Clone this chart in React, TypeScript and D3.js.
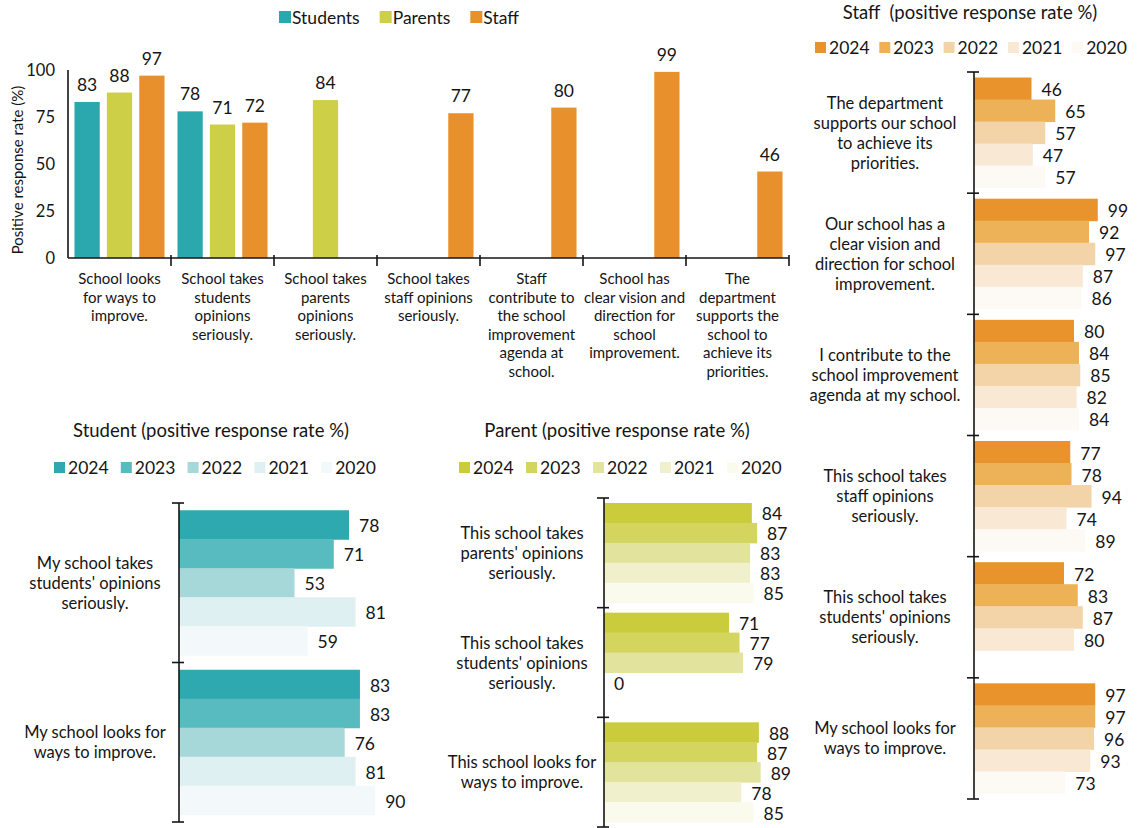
import React from 'react';
import * as d3 from 'd3';

const FONT = 'Lato, "Noto Sans", "DejaVu Sans", sans-serif';
const INK = '#151515';

// ---------- Top grouped bar chart ----------
const topCategories = [
  'School looks for ways to improve.',
  'School takes students opinions seriously.',
  'School takes parents opinions seriously.',
  'School takes staff opinions seriously.',
  'Staff contribute to the school improvement agenda at school.',
  'School has clear vision and direction for school improvement.',
  'The department supports the school to achieve its priorities.',
];
const topCategoryLines = [
  ['School looks', 'for ways to', 'improve.'],
  ['School takes', 'students', 'opinions', 'seriously.'],
  ['School takes', 'parents', 'opinions', 'seriously.'],
  ['School takes', 'staff opinions', 'seriously.'],
  ['Staff', 'contribute to', 'the school', 'improvement', 'agenda at', 'school.'],
  ['School has', 'clear vision and', 'direction for', 'school', 'improvement.'],
  ['The', 'department', 'supports the', 'school to', 'achieve its', 'priorities.'],
];
const topSeries = ['Students', 'Parents', 'Staff'];
const studentsValues: (number | null)[] = [83, 78, null, null, null, null, null];
const parentsValues: (number | null)[] = [88, 71, 84, null, null, null, null];
const staffValues: (number | null)[] = [97, 72, null, 77, 80, 99, 46];
const topColors = ['#2ba7ae', '#cdd047', '#e8902c'];
const yTicks = [0, 25, 50, 75, 100];
const yAxisTitle = 'Positive response rate (%)';

// ---------- Year series ----------
const years = ['2024', '2023', '2022', '2021', '2020'];

// Staff
const staffTitle = 'Staff  (positive response rate %)';
const staffQuestions = [
  ['The department', 'supports our school', 'to achieve its', 'priorities.'],
  ['Our school has a', 'clear vision and', 'direction for school', 'improvement.'],
  ['I contribute to the', 'school improvement', 'agenda at my school.'],
  ['This school takes', 'staff opinions', 'seriously.'],
  ['This school takes', "students' opinions", 'seriously.'],
  ['My school looks for', 'ways to improve.'],
];
const staff2024: (number | null)[] = [46, 99, 80, 77, 72, 97];
const staff2023: (number | null)[] = [65, 92, 84, 78, 83, 97];
const staff2022: (number | null)[] = [57, 97, 85, 94, 87, 96];
const staff2021: (number | null)[] = [47, 87, 82, 74, 80, 93];
const staff2020: (number | null)[] = [57, 86, 84, 89, null, 73];
const staffColors = ['#e8932c', '#edb257', '#f3d3a8', '#f8e8d4', '#fdfaf6'];

// Student
const studentTitle = 'Student (positive response rate %)';
const studentQuestions = [
  ['My school takes', "students' opinions", 'seriously.'],
  ['My school looks for', 'ways to improve.'],
];
const student2024: (number | null)[] = [78, 83];
const student2023: (number | null)[] = [71, 83];
const student2022: (number | null)[] = [53, 76];
const student2021: (number | null)[] = [81, 81];
const student2020: (number | null)[] = [59, 90];
const studentColors = ['#2fa9b0', '#58bbc0', '#a6d8da', '#def0f1', '#f3f9fa'];

// Parent
const parentTitle = 'Parent (positive response rate %)';
const parentQuestions = [
  ['This school takes', "parents' opinions", 'seriously.'],
  ['This school takes', "students' opinions", 'seriously.'],
  ['This school looks for', 'ways to improve.'],
];
const parent2024: (number | null)[] = [84, 71, 88];
const parent2023: (number | null)[] = [87, 77, 87];
const parent2022: (number | null)[] = [83, 79, 89];
const parent2021: (number | null)[] = [83, 0, 78];
const parent2020: (number | null)[] = [85, null, 85];
const parentColors = ['#cacc3c', '#d4d55f', '#e2e39d', '#f0f1cc', '#fafbed'];

function measure(text: string, size: number): number {
  try {
    const c = document.createElement('canvas').getContext('2d');
    if (c) {
      c.font = `${size}px Lato`;
      return c.measureText(text).width;
    }
  } catch (e) {}
  return text.length * size * 0.52;
}

function TopChart() {
  const left = 68, right = 789, top = 70, bottom = 258;
  const x0 = d3.scaleBand<string>().domain(topCategories).range([left, right]).paddingInner(0).paddingOuter(0);
  const x1 = d3.scaleBand<string>().domain(topSeries).range([0, x0.bandwidth()]).paddingInner(0.22).paddingOuter(0.2);
  const y = d3.scaleLinear().domain([0, 100]).range([bottom, top]);
  const seriesValues = [studentsValues, parentsValues, staffValues];
  const boundaries = topCategories.map((c) => x0(c)!).concat([right]);

  const legendSize = 17.5;
  let lx = 279;
  const legendItems = topSeries.map((s, i) => {
    const item = { s, i, x: lx };
    lx += 13 + measure(s, legendSize) + 20;
    return item;
  });

  return (
    <g>
      {legendItems.map((it) => (
        <g key={it.s}>
          <rect x={it.x} y={11} width={12} height={12} fill={topColors[it.i]} />
          <text x={it.x + 13} y={17} dominantBaseline="central" fontSize={legendSize} fill={INK}>{it.s}</text>
        </g>
      ))}
      {seriesValues.map((vals, si) =>
        vals.map((v, ci) =>
          v == null ? null : (
            <g key={`${si}-${ci}`}>
              <rect
                x={x0(topCategories[ci])! + x1(topSeries[si])!}
                y={y(v)}
                width={x1.bandwidth()}
                height={y(0) - y(v)}
                fill={topColors[si]}
              />
              <text
                x={x0(topCategories[ci])! + x1(topSeries[si])! + x1.bandwidth() / 2}
                y={y(v) - 11}
                textAnchor="middle"
                fontSize={17.5}
                fill={INK}
              >{v}</text>
            </g>
          )
        )
      )}
      <line x1={left} x2={left} y1={top} y2={bottom} stroke={INK} strokeWidth={1.6} />
      <line x1={left} x2={right} y1={bottom} y2={bottom} stroke={INK} strokeWidth={1.6} />
      {boundaries.slice(1).map((b, i) => (
        <line key={i} x1={b} x2={b} y1={bottom - 3} y2={bottom + 8} stroke={INK} strokeWidth={1.6} />
      ))}
      {yTicks.map((t) => (
        <text key={t} x={left - 13} y={y(t)} textAnchor="end" dominantBaseline="central" fontSize={16.5} fill={INK}>{t}</text>
      ))}
      <text
        transform={`translate(17, ${(top + bottom) / 2 + 6}) rotate(-90)`}
        textAnchor="middle"
        dominantBaseline="central"
        fontSize={15}
        fill={INK}
      >{yAxisTitle}</text>
      {topCategoryLines.map((lines, ci) => (
        <text key={ci} textAnchor="middle" fontSize={15} fill={INK}>
          {lines.map((ln, li) => (
            <tspan key={li} x={x0(topCategories[ci])! + x0.bandwidth() / 2} y={284 + li * 18.6}>{ln}</tspan>
          ))}
        </text>
      ))}
    </g>
  );
}

interface HProps {
  title: string;
  titleX: number;
  titleY: number;
  legendX: number;
  legendY: number;
  legendStep: number;
  axisX: number;
  fullX: number;
  yTop: number;
  yBottom: number;
  questions: string[][];
  series: (number | null)[][];
  colors: string[];
  labelX: number;
}

function HChart(p: HProps) {
  const qKeys = p.questions.map((q) => q.join(' '));
  const y0 = d3.scaleBand<string>().domain(qKeys).range([p.yTop, p.yBottom]).paddingInner(0).paddingOuter(0);
  const y1 = d3.scaleBand<string>().domain(years).range([0, y0.bandwidth()]).paddingInner(0).paddingOuter(0.25);
  const x = d3.scaleLinear().domain([0, 100]).range([p.axisX, p.fullX]);
  const boundaries = qKeys.map((k) => y0(k)!).concat([p.yBottom]);
  const lineH = 20;
  return (
    <g>
      <text x={p.titleX} y={p.titleY} textAnchor="middle" dominantBaseline="central" fontSize={18.5} fill={INK} style={{ whiteSpace: 'pre' }}>{p.title}</text>
      {years.map((yr, i) => (
        <g key={yr}>
          <rect x={p.legendX + i * p.legendStep - 14} y={p.legendY - 5} width={11} height={11} fill={p.colors[i]} />
          <text x={p.legendX + i * p.legendStep} y={p.legendY} dominantBaseline="central" fontSize={17.5} fill={INK}>{yr}</text>
        </g>
      ))}
      {p.series.map((vals, yi) =>
        vals.map((v, qi) =>
          v == null ? null : (
            <g key={`${yi}-${qi}`}>
              <rect
                x={p.axisX}
                y={y0(qKeys[qi])! + y1(years[yi])!}
                width={x(v) - p.axisX}
                height={y1.bandwidth() + 0.5}
                fill={p.colors[yi]}
              />
              <text
                x={x(v) + 10}
                y={y0(qKeys[qi])! + y1(years[yi])! + y1.bandwidth() / 2 + 1}
                dominantBaseline="central"
                fontSize={17.5}
                fill={INK}
              >{v}</text>
            </g>
          )
        )
      )}
      <line x1={p.axisX} x2={p.axisX} y1={p.yTop} y2={p.yBottom} stroke={INK} strokeWidth={1.6} />
      {boundaries.map((b, i) => (
        <line key={i} x1={p.axisX - 7} x2={p.axisX + 5} y1={b} y2={b} stroke={INK} strokeWidth={1.6} />
      ))}
      {p.questions.map((lines, qi) => {
        const cy = y0(qKeys[qi])! + y0.bandwidth() / 2;
        const start = cy - ((lines.length - 1) * lineH) / 2;
        return (
          <text key={qi} textAnchor="middle" fontSize={16.5} fill={INK}>
            {lines.map((ln, li) => (
              <tspan key={li} x={p.labelX} y={start + li * lineH} dominantBaseline="central">{ln}</tspan>
            ))}
          </text>
        );
      })}
    </g>
  );
}

export default function App() {
  return (
    <svg width={1138} height={828} style={{ position: 'absolute', left: 0, top: 0, background: '#ffffff', fontFamily: FONT }}>
      <rect x={0} y={0} width={1138} height={828} fill="#ffffff" />
      <TopChart />
      <HChart
        title={staffTitle}
        titleX={970}
        titleY={12}
        legendX={829}
        legendY={47}
        legendStep={64.3}
        axisX={974}
        fullX={1099}
        yTop={72}
        yBottom={799}
        questions={staffQuestions}
        series={[staff2024, staff2023, staff2022, staff2021, staff2020]}
        colors={staffColors}
        labelX={885}
      />
      <HChart
        title={studentTitle}
        titleX={211}
        titleY={430}
        legendX={68}
        legendY={467}
        legendStep={66.8}
        axisX={179}
        fullX={397}
        yTop={503}
        yBottom={822}
        questions={studentQuestions}
        series={[student2024, student2023, student2022, student2021, student2020]}
        colors={studentColors}
        labelX={95}
      />
      <HChart
        title={parentTitle}
        titleX={617}
        titleY={430}
        legendX={473}
        legendY={467}
        legendStep={67}
        axisX={604}
        fullX={780}
        yTop={498}
        yBottom={827}
        questions={parentQuestions}
        series={[parent2024, parent2023, parent2022, parent2021, parent2020]}
        colors={parentColors}
        labelX={522}
      />
    </svg>
  );
}
